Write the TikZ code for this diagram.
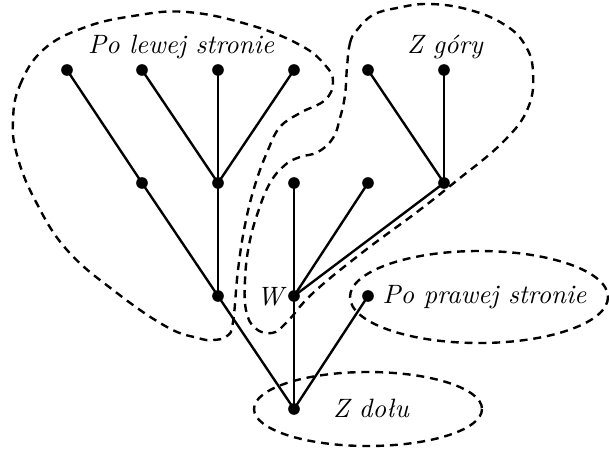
\documentclass[tikz,border=0pt]{standalone}
\usepackage{fontspec}
\begin{document}
\begin{tikzpicture}[x=0.013245cm, y=-0.013245cm,
  dot/.style={circle, fill=black, inner sep=0pt, minimum size=4.4pt},
  edge/.style={line width=0.9pt},
  blob/.style={line width=0.9pt, dash pattern=on 3pt off 2.2pt},
  lab/.style={font=\itshape, inner sep=0pt}]
\useasboundingbox (0,0) rectangle (609,450);
% nodes
\node[dot] (a1) at (67,70) {};
\node[dot] (a2) at (142,70) {};
\node[dot] (a3) at (218,70) {};
\node[dot] (a4) at (294,70) {};
\node[dot] (a5) at (368,70) {};
\node[dot] (a6) at (444,70) {};
\node[dot] (b1) at (142,183) {};
\node[dot] (b2) at (218,183) {};
\node[dot] (b3) at (294,183) {};
\node[dot] (b4) at (368,183) {};
\node[dot] (b5) at (444,183) {};
\node[dot] (c1) at (218,296) {};
\node[dot] (w) at (294,296) {};
\node[dot] (c3) at (368,296) {};
\node[dot] (r) at (294,409) {};
% edges
\draw[edge] (a1.center) -- (b1.center) -- (c1.center) -- (r.center);
\draw[edge] (a2.center) -- (b2.center);
\draw[edge] (a3.center) -- (b2.center);
\draw[edge] (a4.center) -- (b2.center);
\draw[edge] (b2.center) -- (c1.center);
\draw[edge] (a5.center) -- (b5.center);
\draw[edge] (a6.center) -- (b5.center);
\draw[edge] (b5.center) -- (w.center);
\draw[edge] (b3.center) -- (w.center);
\draw[edge] (b4.center) -- (w.center);
\draw[edge] (w.center) -- (r.center);
\draw[edge] (c3.center) -- (r.center);
% labels
\node[lab] (lw) at (181,47) {Po lewej stronie};
\node[lab] (zg) at (445,47) {Z góry};
\node[lab, anchor=east] (wl) at (284,297) {W};
\node[lab, anchor=west] (pp) at (382,297) {Po prawej stronie};
\node[lab] (zd) at (371,408) {Z dołu};
% blobs
\draw[blob] plot[smooth cycle, tension=0.7] coordinates {
  (13,120) (20,85) (43,50) (83,28) (133,16) (187,12) (250,25) (300,45)
  (325,65) (333,82) (325,100) (300,113) (280,127) (268,150) (255,185)
  (245,225) (238,270) (233,322) (227,336) (213,340) (198,338) (167,327)
  (117,293) (67,250) (35,200) (17,155)};
\draw[blob] plot[smooth cycle, tension=0.7] coordinates {
  (347,67) (350,43) (357,30) (373,15) (397,8) (430,4) (470,10) (505,25)
  (525,45) (533,72) (528,108) (503,142) (455,182) (417,212)
  (363,252) (313,293) (287,322) (272,333) (255,328) (246,310) (245,280)
  (249,245) (258,212) (270,183) (285,165) (300,157) (318,152) (333,138)
  (340,118) (345,95)};
\draw[blob] (479,297) ellipse [x radius=129, y radius=46];
\draw[blob] (368,409) ellipse [x radius=114, y radius=37];
\end{tikzpicture}
\end{document}
